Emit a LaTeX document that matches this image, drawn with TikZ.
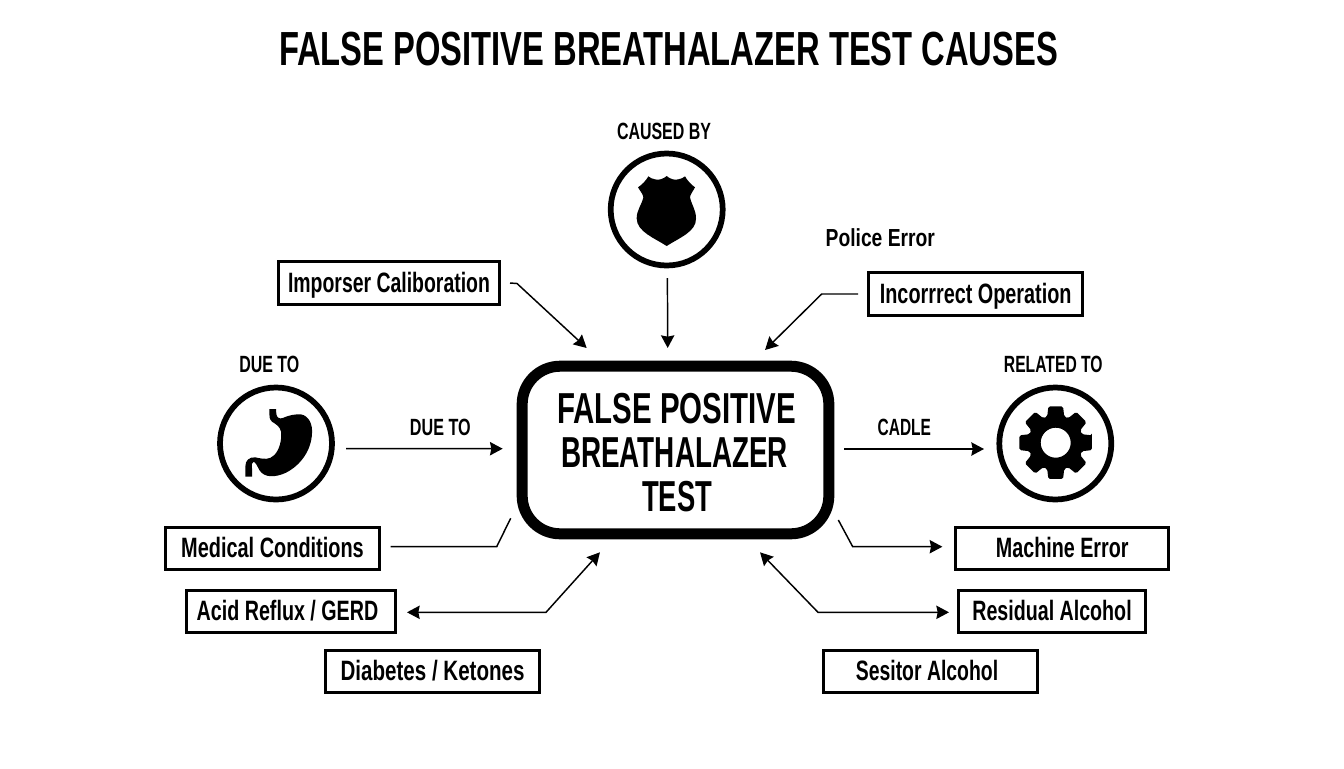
\documentclass[tikz,border=0pt]{standalone}
\usepackage{fontspec}
\usepackage{graphicx}
\setmainfont{Liberation Sans}
\usetikzlibrary{arrows.meta}
\newdimen\pxu \pxu=0.75pt
\newcommand{\tx}[2]{\resizebox*{#1\pxu}{\totalheight}{#2}}
\newcommand{\fs}[1]{\bfseries\fontsize{#1}{#1}\selectfont}
\tikzset{
  lbl/.style={inner sep=0pt,outer sep=0pt,text height=12.6pt,text depth=0pt,font=\fs{17.6}},
  bx/.style 2 args={draw,fill=white,line width=2.25pt,inner sep=0pt,outer sep=0pt,
    minimum width=#1*0.75pt,minimum height=#2*0.75pt,text height=15pt,text depth=1.5pt,font=\fs{21}},
  ring/.style={draw,circle,fill=white,line width=4.3pt,minimum size=84pt,inner sep=0pt,outer sep=0pt},
  conn/.style={line width=1.1pt,draw=black},
  arr/.style={conn,-{Stealth[length=9.5pt,width=10pt,inset=1pt]}},
  biarr/.style={conn,{Stealth[length=9.5pt,width=10pt,inset=1pt]}-{Stealth[length=9.5pt,width=10pt,inset=1pt]}},
}
\begin{document}
\begin{tikzpicture}[x=0.75pt,y=-0.75pt]
\useasboundingbox[fill=white] (0,0) rectangle (1344,768);
% title
\node[inner sep=0pt,text height=25.7pt,text depth=0pt,font=\fs{35.9}] (title) at (668.5,48.8) {\tx{779}{FALSE POSITIVE BREATHALAZER TEST CAUSES}};
% centre
\node[draw,fill=white,line width=8.25pt,rounded corners=28.5pt,inner sep=0pt,outer sep=0pt,
  minimum width=230pt,minimum height=125.7pt] (center) at (675.5,450) {};
\node[inner sep=0pt,text height=23.3pt,text depth=0pt,font=\fs{32.5}] (ctxta) at (676.5,407.5) {\tx{239}{FALSE POSITIVE}};
\node[inner sep=0pt,text height=23.3pt,text depth=0pt,font=\fs{32.5}] (ctxtb) at (674.5,451.5) {\tx{227}{BREATHALAZER}};
\node[inner sep=0pt,text height=23.3pt,text depth=0pt,font=\fs{32.5}] (ctxtc) at (677,495.5) {\tx{70}{TEST}};
% rings
\node[ring] (badge) at (666.7,209.5) {};
\node[ring] (stom) at (276,443.5) {};
\node[ring] (gear) at (1055.3,443.5) {};
% shield
\begin{scope}[shift={(590,110)},x=0.25pt,y=-0.25pt]
\fill (230,198) .. controls (222,206) and (205,212) .. (195,208) .. controls (187,207) and (180,203) .. (175,199)
 .. controls (168,212) and (155,225) .. (144,232) .. controls (152,245) and (160,255) .. (160,262)
 .. controls (155,285) and (140,300) .. (140,325) .. controls (140,365) and (195,385) .. (230,408)
 .. controls (265,385) and (320,365) .. (318,325) .. controls (318,300) and (305,285) .. (300,262)
 .. controls (300,255) and (308,245) .. (315,232) .. controls (305,225) and (292,212) .. (285,199)
 .. controls (280,203) and (273,207) .. (265,208) .. controls (255,212) and (238,206) .. (230,198) -- cycle;
\end{scope}
% stomach
\begin{scope}[shift={(236,400)},x=0.25pt,y=-0.25pt]
\fill (100,27) -- (120,27) -- (121,42) .. controls (122,52) and (130,58) .. (140,54)
 .. controls (160,45) and (180,42) .. (195,43) .. controls (220,48) and (230,75) .. (228,100)
 .. controls (226,150) and (195,195) .. (150,218) .. controls (120,232) and (85,235) .. (70,210)
 .. controls (62,195) and (58,185) .. (52,186) .. controls (46,187) and (47,195) .. (48,205)
 -- (48,230) -- (28,230) -- (28,200) .. controls (28,180) and (40,171) .. (58,172)
 .. controls (85,178) and (100,180) .. (115,165) .. controls (130,150) and (138,120) .. (135,95)
 .. controls (132,78) and (118,72) .. (108,65) .. controls (100,58) and (100,48) .. (100,40) -- cycle;
\end{scope}
% gear
\begin{scope}[shift={(1055.7,442.7)}]
\fill[even odd rule,rounded corners=1.2pt] (-11.5:37)
 \foreach \a in {0,45,...,315} { -- (\a-11.5:37) -- (\a+11.5:37) -- (\a+18:27.5) -- (\a+27:27.5) }
 -- cycle (0,0) circle[radius=15];
\end{scope}
% labels
\node[lbl] (lcaused) at (664,131) {\tx{94}{CAUSED BY}};
\node[lbl] (ldue) at (269.3,364.3) {\tx{60}{DUE TO}};
\node[lbl] (ldueb) at (440.3,427.5) {\tx{60.7}{DUE TO}};
\node[lbl] (lcadle) at (904.3,427.5) {\tx{53.3}{CADLE}};
\node[lbl] (lrel) at (1053.3,364.3) {\tx{98.7}{RELATED TO}};
\node[lbl,text height=13.3pt,font=\fs{18.5}] (lpol) at (880.3,238) {\tx{109.3}{Police Error}};
% boxes
\node[bx={220.4}{43}] (imp) at (389,283) {\tx{202}{Imporser Caliboration}};
\node[bx={213.7}{43.6}] (inc) at (975.7,294) {\tx{191.7}{Incorrrect Operation}};
\node[bx={213.4}{42}] (med) at (272.5,548.2) {\tx{182.6}{Medical Conditions}};
\node[bx={209}{42.3}] (acid) at (290.5,611.3) {\hspace*{-4.5pt}\tx{181.6}{Acid Reflux / GERD}};
\node[bx={213.7}{42}] (diab) at (432.6,671.5) {\tx{184}{Diabetes / Ketones}};
\node[bx={212.7}{42}] (mach) at (1062.2,548.2) {\tx{132.6}{Machine Error}};
\node[bx={186.4}{42.3}] (resid) at (1052,611.3) {\tx{159.4}{Residual Alcohol}};
\node[bx={214.6}{42}] (sesi) at (930.5,671.5) {\hspace*{-5.25pt}\tx{142.3}{Sesitor Alcohol}};
% bend points
\coordinate (bimp) at (517,283.5);
\coordinate (binc) at (821.7,294);
\coordinate (bmed) at (496.7,546.7);
\coordinate (bmach) at (852.7,546.7);
\coordinate (bacid) at (546,612.3);
\coordinate (bresid) at (818,612.3);
% connectors
\draw[arr] ([shift={(10.8,0)}]imp.east) -- (bimp) -- ([shift={(64.5,-18.2)}]center.north west);
\draw[arr] ([shift={(0.7,12.5)}]badge.south) -- ([shift={(-7.8,-18.2)}]center.north);
\draw[arr] ([shift={(-10.7,0)}]inc.west) -- (binc) -- ([shift={(-63.8,-16.2)}]center.north east);
\draw[arr] ([shift={(14,5.2)}]stom.east) -- ([shift={(-19.5,-1.3)}]center.west);
\draw[arr] ([shift={(15.2,-1)}]center.east) -- ([shift={(-15.3,5.5)}]gear.west);
\draw[conn] ([shift={(11.5,-1.5)}]med.east) -- (bmed) -- ([shift={(-11.5,-15.5)}]center.south west);
\draw[arr] ([shift={(9.5,-13.8)}]center.south east) -- (bmach) -- ([shift={(-13.5,-1.5)}]mach.west);
\draw[biarr] ([shift={(12,1)}]acid.east) -- (bacid) -- ([shift={(77.8,18.5)}]center.south west);
\draw[biarr] ([shift={(-9.8,1)}]resid.west) -- (bresid) -- ([shift={(-68.8,18.5)}]center.south east);
\end{tikzpicture}
\end{document}
